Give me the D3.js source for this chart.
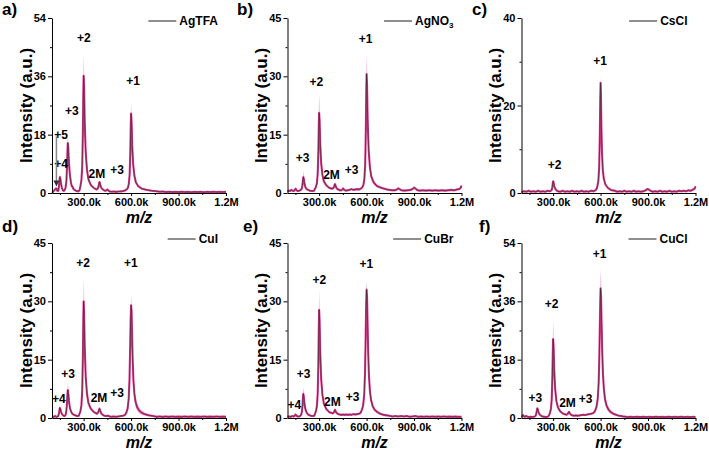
<!DOCTYPE html>
<html><head><meta charset="utf-8">
<script src="https://cdn.jsdelivr.net/npm/d3@7"></script>
<style>
html,body{margin:0;padding:0;background:#fff;}
svg{display:block;font-family:"Liberation Sans",Arial,sans-serif;}
</style></head>
<body><svg id="chart" width="709" height="454"></svg>
<script>
// ---------- DATA ----------
const panelLabels = ["a)","b)","c)","d)","e)","f)"];
const sampleNames = ["AgTFA","AgNO3","CsCl","CuI","CuBr","CuCl"];
const yMaxes = [54,45,40,45,45,54];
const yTickSets = [[0,18,36,54],[0,15,30,45],[0,20,40],[0,15,30,45],[0,15,30,45],[0,18,36,54]];
const xTickValues = [300,600,900,1200];
const xTickLabels = ["300.0k","600.0k","900.0k","1.2M"];
const xMinorTicks = [150,450,750,1050];
const xDomain = [100,1200];

// [m/z (k), intensity, error]
const specAgTFA = [[100,0.5],[106,0.3],[112,0.7],[118,1.0],[123,1.3],[128,1.4],[133,0.7],[138,0.6],[141,0.9],[145,2.6,0.5],[148,4.2,0.9],[150,4.9,1.1],[153,4.4,1],[157,2.9,0.6],[162,1.6,0.3],[168,0.9],[174,0.6],[180,0.9],[186,1.7,0.3],[191,3.6,0.6],[195,8,1.3],[198,13.4,2.2],[200,15.4,2.5],[203,14,2.3],[207,9.5,1.6],[213,5.6,0.9],[220,3.2,0.5],[226,2.0,0.4],[230,2.0,0.4],[236,1.2],[245,0.9],[255,0.6],[265,0.5],[274,0.8],[280,2.2,0.4],[286,4,0.8],[291,8,1.6],[295,18.1,3.5],[298,30.8,6],[300,36.2,7],[303,32.6,6.2],[307,21.7,4.2],[313,12.7,2.5],[321,7.2,1.4],[330,4.3,0.8],[345,2.5,0.5],[365,1.5],[382,1.1],[391,1.5],[395,2.2,0.4],[398,3.1,0.5],[400,3.4,0.6],[403,3.1,0.5],[407,2.2,0.4],[413,1.5],[421,1.1],[430,0.8],[440,0.7],[446,0.9],[450,1.1],[455,0.8],[464,0.5],[476,0.4],[490,0.45],[505,0.35],[520,0.45],[535,0.5],[550,0.6],[562,0.8],[572,1.1],[580,1.6,0.3],[586,2.9,0.5],[591,5.8,0.9],[595,12.6,1.8],[598,21.2,3],[600,24.5,3.5],[603,22,3.2],[607,14.9,2.2],[613,8.9,1.3],[621,5.3,0.8],[630,3.3,0.5],[645,2.1,0.4],[665,1.4],[695,1.0],[730,0.7],[760,0.55],[780,0.4],[800,0.45],[820,0.3],[840,0.4],[860,0.3],[880,0.35],[900,0.3],[920,0.4],[940,0.3],[960,0.35],[980,0.25],[1000,0.35],[1020,0.3],[1040,0.35],[1060,0.25],[1080,0.35],[1100,0.3],[1120,0.4],[1140,0.3],[1160,0.35],[1180,0.3],[1200,0.35]];
const specAgNO3 = [[100,0.4],[108,0.6],[116,0.5],[124,0.8],[132,0.6],[140,0.5],[147,0.9],[152,1.1],[157,0.7],[165,0.5],[175,0.6],[185,0.8],[191,1.2],[195,2.3,0.6],[198,3.5,1.2],[200,4.1,1.5],[203,3.7,1.3],[207,2.5,0.8],[213,1.5,0.4],[221,1.0],[230,0.8],[242,0.6],[255,0.5],[268,0.6],[280,1.6,0.3],[286,2.6,0.5],[291,5,1.2],[295,10.6,2.6],[298,17.6,4.4],[300,20.6,5],[303,18.6,4.6],[307,12.6,3],[313,7.6,1.8],[321,4.6,1],[330,3,0.6],[345,2,0.4],[365,1.3],[383,1.1],[391,1.3],[395,1.7],[398,2.1],[400,2.3,0.4],[403,2.0],[407,1.5],[413,1.1],[421,0.9],[430,0.7],[440,0.7],[447,0.9],[452,1.2],[458,0.8],[468,0.6],[480,0.7],[492,0.8],[504,1.0],[516,0.8],[528,0.9],[540,1.0],[552,0.9],[562,1.1],[572,1.4],[580,2.1,0.4],[586,3.6,0.6],[591,7.2,1.2],[595,15.6,2.6],[598,26,4.4],[600,30.6,5.2],[603,27.6,4.7],[607,18.6,3.2],[613,11.1,1.9],[621,6.6,1.1],[630,4.2,0.7],[645,2.7,0.5],[665,1.8],[695,1.3],[730,0.9],[760,0.7],[780,0.7],[792,0.9],[800,1.2],[808,1.0],[820,0.7],[840,0.6],[860,0.7],[880,0.8],[893,1.1],[900,1.4],[907,1.2],[918,0.8],[935,0.6],[955,0.7],[975,0.6],[995,0.7],[1015,0.6],[1035,0.7],[1055,0.6],[1075,0.7],[1095,0.6],[1115,0.7],[1135,0.8],[1155,0.7],[1170,0.9],[1185,1.0],[1195,1.3],[1200,1.9]];
const specCsCl = [[100,0.2],[115,0.4],[130,0.3],[145,0.5],[160,0.3],[175,0.4],[190,0.3],[205,0.5],[220,0.3],[235,0.4],[250,0.3],[265,0.5],[278,0.4],[285,0.5],[291,0.7],[295,1.4],[298,2.3],[300,2.7,0.3],[303,2.4],[307,1.6],[313,1.0],[321,0.6],[330,0.4],[345,0.3],[360,0.5],[375,0.3],[390,0.4],[405,0.3],[420,0.5],[435,0.3],[450,0.4],[465,0.3],[480,0.5],[495,0.3],[510,0.4],[525,0.3],[540,0.5],[555,0.4],[567,0.6],[575,0.9],[580,1.6],[586,2.8,0.3],[591,5.8,0.5],[595,12.8,0.9],[598,21.6,1.3],[600,25.2,1.5],[602,22.8,1.4],[605,15.3,1],[609,9.1,0.6],[614,5.3,0.4],[620,3.3],[630,2.0],[645,1.2],[665,0.7],[690,0.5],[705,0.3],[720,0.4],[735,0.3],[750,0.5],[765,0.3],[780,0.4],[795,0.3],[810,0.5],[825,0.3],[840,0.4],[855,0.3],[870,0.4],[885,0.6],[895,0.9],[905,0.8],[915,0.5],[930,0.3],[945,0.4],[960,0.3],[975,0.5],[990,0.3],[1005,0.4],[1020,0.3],[1035,0.5],[1050,0.3],[1065,0.4],[1080,0.3],[1095,0.5],[1110,0.4],[1125,0.5],[1140,0.4],[1155,0.6],[1170,0.5],[1185,0.8],[1195,1.0],[1200,1.5]];
const specCuI = [[100,0.4],[110,0.3],[120,0.5],[128,0.3],[135,0.4],[140,0.5],[145,1.5],[148,2.3,0.4],[150,2.6,0.5],[153,2.3,0.4],[157,1.6],[163,1.0],[171,0.6],[180,0.5],[186,0.8],[191,1.9,0.4],[195,3.9,1],[198,6.4,1.6],[200,7.2,1.8],[203,6.5,1.6],[207,4.4,1.1],[213,2.6,0.6],[221,1.6,0.4],[230,1.0],[245,0.7],[260,0.5],[270,0.6],[280,1.8,0.4],[286,3.3,0.7],[291,6.9,1.4],[295,15.2,3],[298,25.6,5.1],[300,30,6],[303,27.1,5.4],[307,18.2,3.6],[313,10.7,2.1],[321,6.3,1.2],[330,3.9,0.8],[345,2.4,0.5],[365,1.5],[385,1.1],[391,1.4],[395,1.8],[398,2.2],[400,2.4,0.4],[403,2.1],[407,1.6],[413,1.1],[421,0.8],[430,0.6],[442,0.5],[454,0.6],[465,0.4],[476,0.3],[490,0.4],[505,0.3],[520,0.4],[535,0.5],[550,0.6],[562,0.8],[570,1.4,0.4],[578,2.4,0.5],[585,5,0.8],[590,10,1.4],[594,18,2],[597,25,2.4],[600,29,2.6],[603,27.5,2.6],[606,22,2.4],[610,15,2.2],[615,9.5,1.8],[621,6.2,1.5],[628,4.2,1.2],[638,2.8,1],[650,2,0.8],[665,1.4,0.6],[685,1.0,0.4],[710,0.7],[740,0.5],[760,0.3],[780,0.4],[800,0.3],[820,0.4],[840,0.3],[860,0.4],[880,0.3],[900,0.35],[920,0.3],[940,0.4],[960,0.3],[980,0.4],[1000,0.3],[1020,0.35],[1040,0.3],[1060,0.4],[1080,0.3],[1100,0.35],[1120,0.3],[1140,0.4],[1160,0.3],[1180,0.35],[1200,0.3]];
const specCuBr = [[100,0.3],[110,0.4],[120,0.3],[130,0.5],[138,0.4],[144,0.5],[148,0.8],[150,0.9],[153,0.8],[158,0.5],[166,0.4],[175,0.4],[182,0.6],[186,0.8],[191,1.6,0.4],[195,3.3,0.9],[198,5.4,1.5],[200,6.2,1.8],[203,5.6,1.6],[207,3.8,1.1],[213,2.3,0.6],[221,1.4,0.4],[230,0.9],[245,0.6],[258,0.5],[270,0.6],[280,1.8,0.3],[286,3.1,0.6],[291,6.4,1.2],[295,14.1,2.5],[298,23.7,4.3],[300,27.8,5],[303,25,4.5],[307,16.8,3],[313,10,1.8],[321,5.9,1.1],[330,3.7,0.7],[345,2.3,0.4],[365,1.5],[385,1.2],[391,1.3],[395,1.6],[398,1.9],[400,2.1,0.4],[403,1.9],[407,1.5],[413,1.2],[421,1.0],[430,0.9],[440,0.8],[450,0.9],[460,0.8],[470,0.9],[480,0.8],[492,0.9],[504,0.8],[516,1.0],[528,0.9],[540,1.0],[552,1.1],[562,1.3],[570,2.1,0.4],[578,3.2,0.5],[585,6,0.8],[590,11.5,1.2],[594,20.5,1.7],[597,28.5,2.2],[600,33,2.4],[603,31,2.4],[606,25,2.2],[610,17,1.8],[615,10.8,1.4],[621,7,1.1],[628,4.7,0.9],[638,3.1,0.7],[650,2.2,0.5],[665,1.6],[685,1.1],[710,0.8],[740,0.6],[764,0.4],[782,0.5],[800,0.4],[818,0.5],[836,0.4],[854,0.5],[872,0.3],[890,0.4],[908,0.5],[926,0.3],[944,0.4],[962,0.3],[980,0.4],[998,0.3],[1016,0.4],[1034,0.3],[1052,0.4],[1070,0.3],[1088,0.4],[1106,0.3],[1124,0.35],[1142,0.3],[1160,0.35],[1180,0.3],[1200,0.3]];
const specCuCl = [[100,0.3],[106,0.6],[110,0.9],[114,0.5],[122,0.4],[130,0.6],[138,0.4],[148,0.3],[158,0.4],[168,0.3],[178,0.4],[184,0.5],[188,0.6],[192,1.0],[195,1.8,0.4],[198,2.6,0.5],[200,3,0.6],[203,2.7,0.5],[207,1.9,0.4],[213,1.2],[221,0.8],[230,0.5],[242,0.4],[254,0.3],[266,0.4],[274,0.8],[280,1.6,0.3],[286,2.8,0.6],[291,5.6,1.3],[295,12.4,2.9],[298,20.8,4.8],[300,24.4,5.6],[303,22,5],[307,14.8,3.4],[313,8.8,2],[321,5.2,1.2],[330,3.3,0.7],[345,2,0.4],[365,1.3],[385,1.0],[391,1.2],[395,1.5],[398,1.8],[400,1.9,0.4],[403,1.7],[407,1.3],[413,1.0],[421,0.8],[432,0.7],[444,0.8],[456,0.7],[468,0.8],[480,0.9],[492,1.0],[504,0.9],[516,1.1],[528,1.2],[540,1.3],[552,1.5],[560,1.8],[565,2.2,0.4],[574,3.4,0.6],[582,6,1],[588,11,1.7],[592,19,2.9],[595,28,4.2],[598,36,5.4],[600,40,6],[603,37.5,5.6],[606,30,4.5],[610,21,3.3],[615,13.5,2.2],[621,8.8,1.6],[628,5.8,1.3],[638,3.8,1],[650,2.6,0.8],[665,1.8,0.6],[685,1.2,0.4],[710,0.8],[740,0.5],[770,0.3],[790,0.4],[810,0.3],[830,0.4],[850,0.3],[870,0.4],[890,0.3],[910,0.35],[930,0.3],[950,0.4],[970,0.3],[990,0.35],[1010,0.3],[1030,0.4],[1050,0.3],[1070,0.35],[1090,0.3],[1110,0.4],[1130,0.3],[1150,0.35],[1170,0.3],[1190,0.35],[1200,0.3]];

// annotations: [text, m/z (k), intensity at text baseline]
const annAgTFA = [["+2",302,46.6],["+1",612,33.3],["+3",226,24],["+5",157,16.7],["+4",157,7.7],["2M",384,4.6],["+3",511,5.9]];
const annAgNO3 = [["+3",195,7.9],["+2",283,27.6],["+1",593,38.6],["2M",378,3.6],["+3",505,4.9]];
const annCsCl = [["+2",309,5.5],["+1",597,29.3]];
const annCuI = [["+4",144,3.9],["+3",201,10.3],["+2",296,38.8],["+1",599,38.8],["2M",397,4.1],["+3",511,5.4]];
const annCuBr = [["+4",144,2.3],["+3",201,10.3],["+2",302,34.4],["+1",599,38.5],["2M",384,3.1],["+3",511,4.4]];
const annCuCl = [["+3",188,4.9],["+2",290,34],["+1",593,49.4],["2M",391,3.4],["+3",505,4.6]];
// arrow in panel a: [m/z (k), from intensity, to intensity]
const arrowAgTFA = [128, 17.5, 2.0];

const spectra = [specAgTFA, specAgNO3, specCsCl, specCuI, specCuBr, specCuCl];
const annotations = [annAgTFA, annAgNO3, annCsCl, annCuI, annCuBr, annCuCl];

// ---------- LAYOUT ----------
const colX = [52, 287.5, 521.5];
const rowTop = [18, 243];
const plotW = 174, plotH = 175;
const legendY = [21, 239];
const labelX = [2, 237, 472];
const labelXRow2 = [2, 243, 479];
const labelY = [15, 232];
const FONT = '"Liberation Sans", Arial, sans-serif';
const C_DARK = "#2e2428", C_MAG = "#dc3a8d", C_PINK = "#f8b0d8";

const svg = d3.select("#chart");
svg.append("rect").attr("width",709).attr("height",454).attr("fill","#fff");

for (let i = 0; i < 6; i++) {
  const col = i % 3, row = Math.floor(i / 3);
  const x0 = colX[col], y0 = rowTop[row];
  const g = svg.append("g").attr("transform", `translate(${x0},${y0})`);
  const x = d3.scaleLinear().domain(xDomain).range([0, plotW]);
  const y = d3.scaleLinear().domain([0, yMaxes[i]]).range([plotH, 0]);
  const pts = spectra[i].map(d => ({mz: d[0], v: d[1], e: d.length > 2 ? d[2] : 0.3}));

  // error band
  g.append("path").datum(pts)
    .attr("d", d3.area().x(d => x(d.mz)).y0(d => y(Math.max(0, d.v - d.e))).y1(d => y(d.v + d.e)))
    .attr("fill", C_PINK).attr("opacity", 0.9);
  // magenta trace
  g.append("path").datum(pts)
    .attr("d", d3.line().x(d => x(d.mz)).y(d => y(d.v)))
    .attr("fill","none").attr("stroke", C_MAG).attr("stroke-width", 2.1).attr("stroke-linejoin","round");
  // dark trace
  g.append("path").datum(pts)
    .attr("d", d3.line().x(d => x(d.mz)).y(d => y(d.v)))
    .attr("fill","none").attr("stroke", C_DARK).attr("stroke-width", 0.8).attr("opacity",0.75).attr("stroke-linejoin","round");

  // axes
  const yMinor = yTickSets[i].slice(0, -1).map((t, k) => (t + yTickSets[i][k+1]) / 2);
  const yAxMinor = g.append("g").call(d3.axisLeft(y).tickValues(yMinor).tickSize(2).tickFormat(""));
  yAxMinor.select(".domain").remove();
  const yAx = g.append("g").call(d3.axisLeft(y).tickValues(yTickSets[i]).tickSize(4).tickPadding(2).tickSizeOuter(0));
  yAx.selectAll("text").attr("font-family", FONT).attr("font-weight","bold").attr("font-size", 11).attr("fill","#000");
  const xAxMinor = g.append("g").attr("transform", `translate(0,${plotH})`)
    .call(d3.axisBottom(x).tickValues(xMinorTicks).tickSize(2).tickFormat(""));
  xAxMinor.select(".domain").remove();
  const xAx = g.append("g").attr("transform", `translate(0,${plotH})`)
    .call(d3.axisBottom(x).tickValues(xTickValues).tickSize(3).tickSizeOuter(0)
      .tickFormat((d, k) => xTickLabels[k]).tickPadding(2));
  xAx.selectAll("text").attr("font-family", FONT).attr("font-weight","bold").attr("font-size", 11).attr("fill","#000");
  g.selectAll(".domain, .tick line").attr("stroke","#000").attr("stroke-width",1);

  // axis titles
  g.append("text").attr("transform", `translate(-26,${plotH/2}) rotate(-90)`)
    .attr("text-anchor","middle").attr("dy","0.35em")
    .attr("font-family", FONT).attr("font-weight","bold").attr("font-size", 17).text("Intensity (a.u.)");
  g.append("text").attr("x", plotW/2).attr("y", plotH + 30).attr("text-anchor","middle")
    .attr("font-family", FONT).attr("font-weight","bold").attr("font-style","italic").attr("font-size", 16).text("m/z");

  // annotations
  annotations[i].forEach(a => {
    g.append("text").attr("x", x(a[1])).attr("y", y(a[2])).attr("text-anchor","middle")
      .attr("font-family", FONT).attr("font-weight","bold").attr("font-size", 12).text(a[0]);
  });
  if (i === 0) {
    const ax = x(arrowAgTFA[0]);
    g.append("line").attr("x1", ax).attr("x2", ax).attr("y1", y(arrowAgTFA[1])).attr("y2", y(arrowAgTFA[2]) - 5)
      .attr("stroke","#888").attr("stroke-width",1.5);
    g.append("path").attr("d", `M${ax-3},${y(arrowAgTFA[2])-6} L${ax+3},${y(arrowAgTFA[2])-6} L${ax},${y(arrowAgTFA[2])} Z`).attr("fill","#333");
  }

  // legend
  const lg = svg.append("g");
  const lt = lg.append("text").attr("x", x0 + plotW - 8).attr("y", legendY[row] + 4).attr("text-anchor","end")
    .attr("font-family", FONT).attr("font-weight","bold").attr("font-size", 12);
  const m = sampleNames[i].match(/^([A-Za-z]+)(\d*)$/);
  lt.append("tspan").text(m[1]);
  if (m[2]) lt.append("tspan").attr("font-size", 8).attr("dy", 3).text(m[2]);
  const tw = lt.node().getComputedTextLength();
  const tx = x0 + plotW - 8 - tw;
  lg.append("line").attr("x1", tx - 31).attr("x2", tx - 3).attr("y1", legendY[row]).attr("y2", legendY[row])
    .attr("stroke", "#444").attr("stroke-width", 1.2);

  // panel label
  svg.append("text").attr("x", row === 0 ? labelX[col] : labelXRow2[col]).attr("y", labelY[row])
    .attr("font-family", FONT).attr("font-weight","bold").attr("font-size", 17).text(panelLabels[i]);
}
</script></body></html>
